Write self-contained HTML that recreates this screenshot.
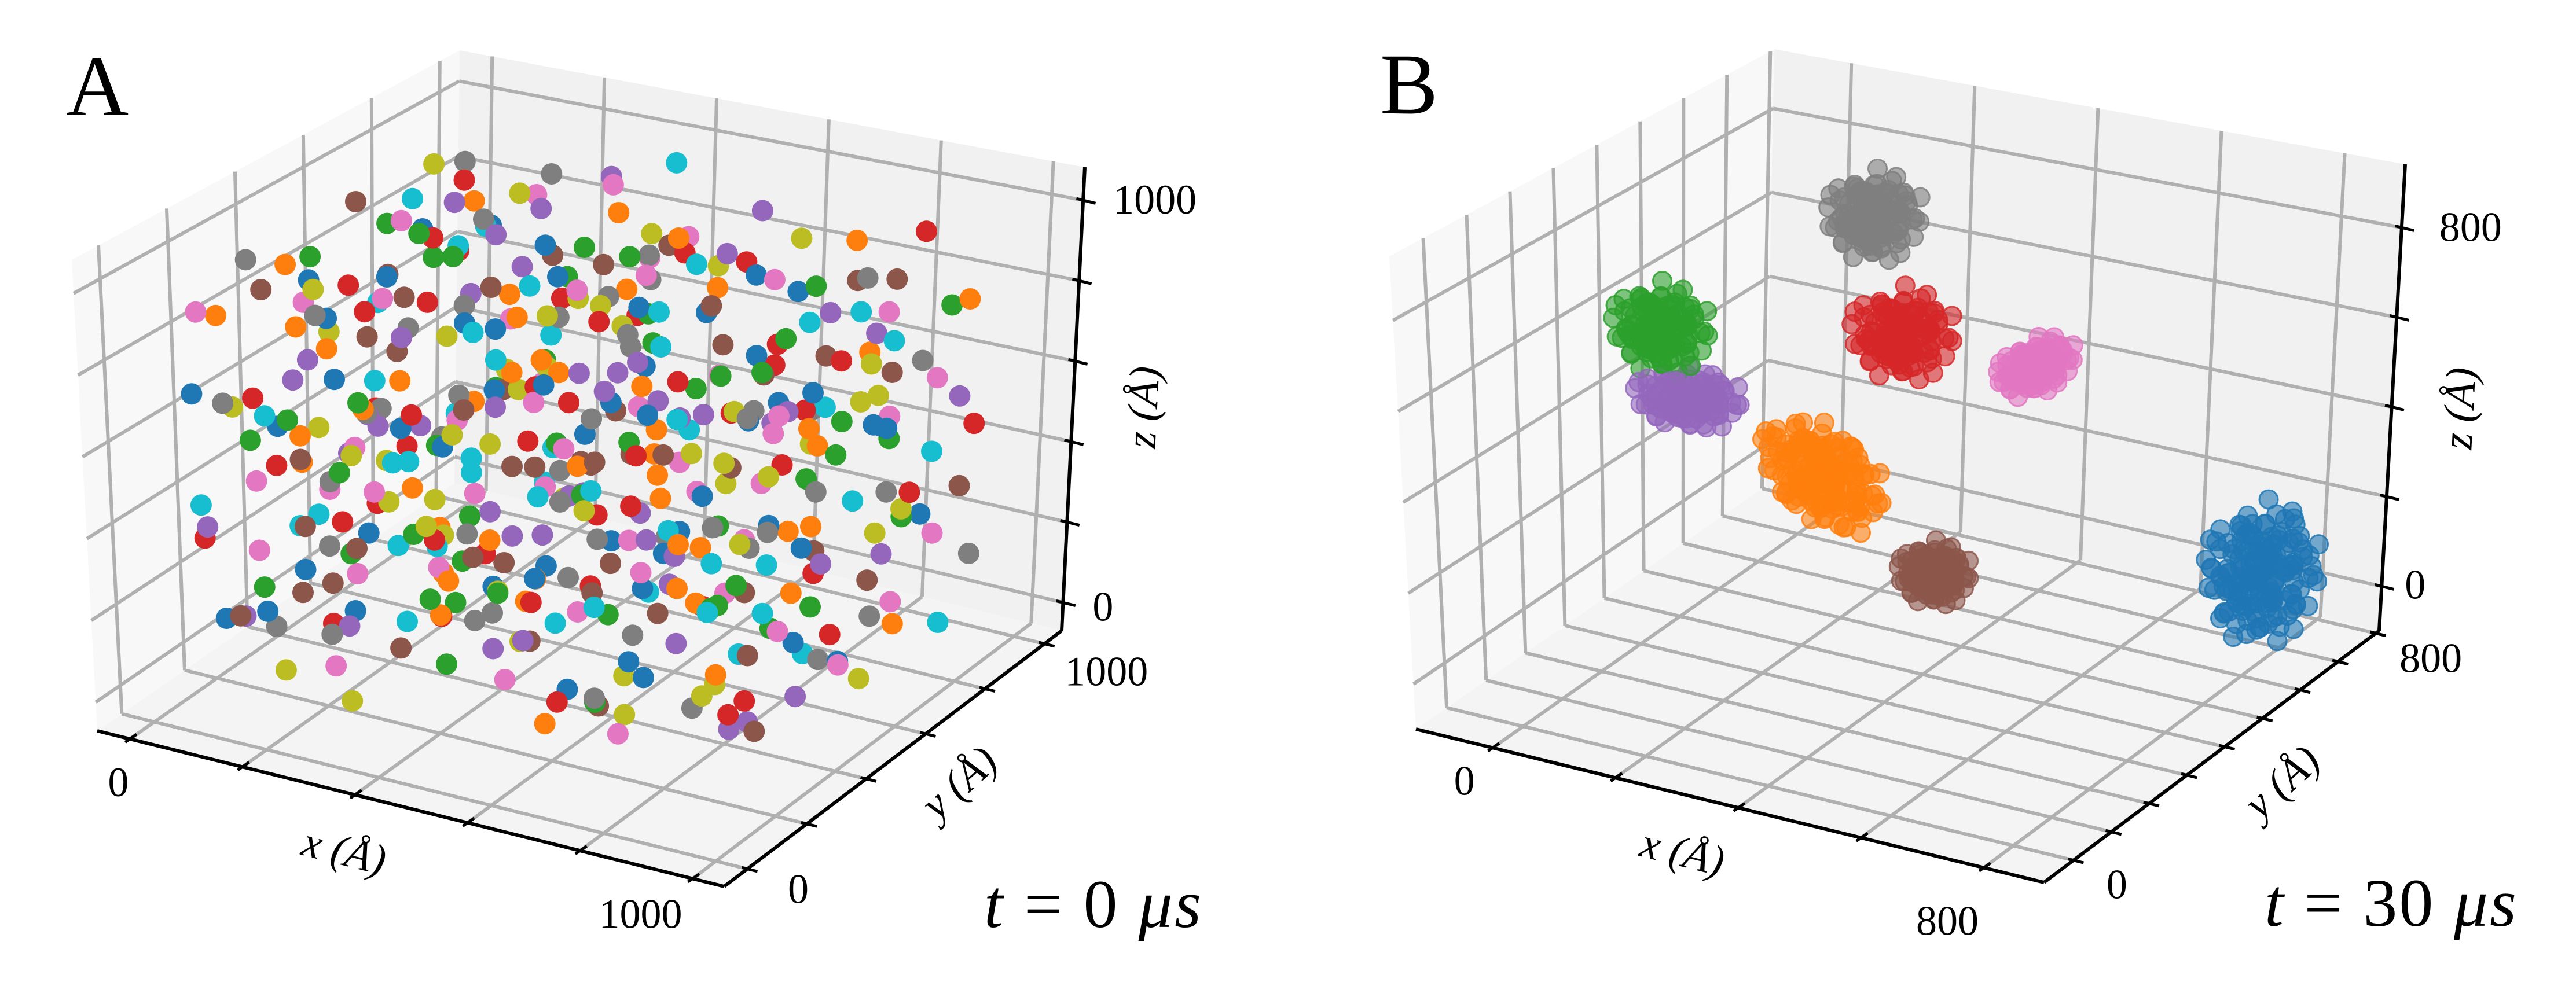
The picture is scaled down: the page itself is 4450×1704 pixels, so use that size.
<!DOCTYPE html>
<html><head><meta charset="utf-8"><style>
html,body{margin:0;padding:0;background:#fff;}
svg{display:block;font-family:"Liberation Serif",serif;}
</style></head><body>
<svg id="fig" xmlns="http://www.w3.org/2000/svg" width="4450" height="1704" viewBox="0 0 4450 1704">
<rect width="4450" height="1704" fill="#fff"/>
<g id="panelA"></g>
<g id="panelB"></g>
<text x="114" y="199" font-size="150">A</text>
<text x="2384" y="196" font-size="150">B</text>
<text x="1700" y="1602" font-size="118" textLength="375" lengthAdjust="spacing"><tspan font-style="italic">t</tspan> = 0 <tspan font-style="italic">μs</tspan></text>
<text x="3912" y="1600" font-size="118" textLength="435" lengthAdjust="spacing"><tspan font-style="italic">t</tspan> = 30 <tspan font-style="italic">μs</tspan></text>
</svg>
<script>
// ---------- Panel A data: randomly placed particles (x y z in Å), one array per species ----------
const seriesA0 = "812 134 455|233 671 902|57 388 120|640 912 731|395 245 611|918 560 84|150 820 377|702 47 958|486 603 219|269 139 790|855 781 530|31 512 683|577 296 46|344 954 428|966 212 870|121 430 15|733 668 302|418 85 744|609 841 597|248 337 941|887 472 168|71 736 812|529 158 356|792 595 664|186 48 239|451 884 77|982 335 502|308 707 856|635 441 931|94 254 561|758 976 393|520 710 140";
const seriesA0b = "302 566 713|874 903 248|145 276 931|667 381 59|423 712 489|38 95 702|951 655 617|589 184 381|213 997 186|768 240 808|496 432 970|106 803 545|836 41 334|359 619 105|643 778 843|187 364 268|912 496 776|471 922 622|29 187 96|705 508 451";
const seriesA1 = "64 905 273|712 318 822|355 560 47|903 94 611|227 742 488|598 211 905|441 839 183|829 632 349|118 367 706|676 48 128|290 986 593|952 415 742|507 702 391|33 183 852|768 869 919|381 274 260|615 523 580|176 613 29|860 158 458|473 951 671|245 72 944|703 784 215|12 462 337|558 327 804|931 716 96|329 891 852|664 199 672|122 578 519";
const seriesA1b = "842 245 371|190 798 648|563 96 512|415 487 163|977 860 837|68 334 918|639 617 244|307 158 719|751 947 592|126 691 85|519 273 955|882 560 603|243 406 377|694 813 41|36 949 766|460 111 288|803 371 116|152 224 571|587 639 990|919 15 824";
const seriesA2 = "485 39 372|811 664 127|262 851 688|947 287 943|139 121 245|593 476 566|376 710 869|728 905 433|40 560 61|662 143 756|299 388 511|887 819 291|514 615 934|177 932 403|955 491 639|404 220 91|786 356 820|83 748 736|618 992 206|320 59 617|871 242 369|230 463 983|549 834 151|15 302 476|699 577 711|452 172 284|925 708 556|192 625 833";
const seriesA2b = "647 259 58|97 916 314|836 543 862|356 64 797|568 371 482|211 637 172|983 130 519|445 788 681|67 409 901|729 682 37|312 289 345|891 954 748|528 517 95|150 191 626|766 446 234|406 870 552|20 715 821|609 36 429|854 603 966|263 522 138";
const seriesA3 = "731 462 211|188 91 576|599 823 840|42 639 392|874 335 95|335 711 727|967 902 503|264 243 905|503 529 329|806 118 661|129 963 159|652 295 974|409 672 42|919 570 818|77 211 647|556 991 477|283 402 262|749 785 124|456 56 803|31 817 568|823 449 707|612 131 358|207 541 927|985 86 231|378 868 615|696 614 599|147 316 54|533 748 882";
const seriesA3b = "110 449 823|947 736 415|372 177 640|605 936 268|238 638 85|812 260 893|55 88 355|481 384 716|699 839 488|164 706 980|925 522 173|330 45 507|588 243 47|757 651 769|13 942 632|436 155 254|865 913 946|292 807 397|640 417 578|93 553 211";
const seriesA4 = "381 158 919|904 725 255|165 437 491|659 21 338|46 873 804|782 592 612|433 317 87|269 999 363|847 206 843|567 661 175|118 264 679|719 877 719|342 505 993|985 389 436|206 710 142|602 99 533|496 939 771|881 488 25|28 578 304|758 232 938|311 84 226|547 786 458|128 941 626|950 624 867|416 371 652|687 452 111|241 806 880|806 161 557";
const seriesA4b = "514 740 44|84 49 412|743 314 798|297 922 920|966 120 172|453 574 344|178 385 551|617 838 967|839 543 683|35 237 77|362 687 246|911 953 527|231 125 833|566 449 698|705 18 610|129 628 381|873 345 38|391 863 116|656 226 883|9 987 494";
const seriesA5 = "92 318 112|558 855 290|301 556 823|874 72 447|733 493 938|17 770 601|453 228 366|662 944 64|219 409 710|988 607 791|379 123 174|139 865 350|604 340 584|842 793 133|466 617 899|266 39 478|928 253 267|53 479 35|697 712 643|374 969 741|811 397 914|175 184 540|529 91 821|749 562 198|417 737 453|6 646 907|638 286 31|296 840 229";
const seriesA5b = "724 151 725|260 659 58|986 826 395|55 282 876|528 467 176|815 35 568|167 967 654|421 779 322|908 304 49|349 110 934|618 538 510|82 613 760|769 872 817|474 362 95|234 246 307|683 929 572|945 692 964|138 46 213|565 168 656|396 522 418";
const seriesA6 = "611 747 50|95 183 461|841 512 689|420 936 215|230 352 874|978 262 337|348 629 558|711 83 788|126 801 112|543 411 961|897 905 594|278 171 298|655 578 410|39 432 766|808 46 148|466 872 840|173 604 47|934 688 882|593 307 236|327 991 683|752 199 519|68 69 926|402 543 359|869 822 72|227 739 627|634 126 855|980 449 156|517 886 495";
const seriesA6b = "392 41 602|761 635 939|28 518 244|577 869 106|907 383 733|255 215 580|688 723 363|141 960 808|470 287 39|826 107 512|342 852 947|615 469 665|11 326 186|953 801 281|532 634 883|290 73 127|795 938 449|188 481 994|450 200 717|726 585 25";
const seriesA7 = "279 573 980|713 142 152|58 884 533|934 793 707|421 267 393|605 456 847|192 63 196|849 621 33|360 939 664|547 342 551|116 715 301|980 186 893|675 908 447|237 414 772|792 37 618|473 802 116|25 289 938|628 675 259|308 536 15|891 388 484|156 979 857|737 247 962|510 130 281|68 611 414|961 909 174|385 768 717|585 494 75|213 323 597";
const seriesA7b = "835 862 313|73 128 674|502 693 895|316 21 240|959 422 586|198 894 419|661 250 761|405 608 97|872 727 928|60 459 142|541 955 375|233 174 509|780 334 47|446 516 812|120 781 978|697 88 652|977 557 216|350 373 660|618 811 130|171 249 864";
const seriesA8 = "836 618 563|143 906 840|512 265 159|967 38 296|273 469 735|688 837 918|409 164 461|21 706 214|782 405 67|355 633 598|618 19 802|171 246 930|918 762 351|455 983 705|295 110 23|733 560 642|87 389 487|544 865 240|880 182 779|204 802 405|631 335 987|36 511 651|767 952 139|479 427 870|151 658 92|906 276 518|325 88 646|702 721 385";
const seriesA8b = "41 820 929|596 58 418|322 742 198|851 327 672|168 127 47|770 889 504|433 596 815|993 493 103|250 321 389|662 218 553|90 961 335|519 672 965|803 78 176|369 838 601|935 634 782|205 539 265|625 393 43|477 139 720|741 996 454|18 247 588";
const seriesA9 = "566 291 640|121 624 960|892 903 410|357 114 827|681 755 139|47 392 225|779 46 726|237 845 533|438 507 49|985 618 862|176 232 380|615 994 602|854 355 192|302 670 769|521 140 984|43 890 681|741 472 315|393 333 502|966 803 63|210 26 737|579 706 888|125 561 110|824 198 566|448 915 319|689 411 951|274 763 211|937 117 446|351 484 692";
const seriesA9b = "720 865 488|262 347 81|893 122 896|507 721 651|59 74 445|635 286 272|400 943 974|976 506 525|169 438 803|818 627 34|339 187 583|571 571 136|107 776 327|791 847 758|460 35 701|231 658 906|942 279 360|625 142 614|38 943 95|288 401 248";
const seriesAList = [[seriesA0,seriesA0b],[seriesA1,seriesA1b],[seriesA2,seriesA2b],[seriesA3,seriesA3b],[seriesA4,seriesA4b],[seriesA5,seriesA5b],[seriesA6,seriesA6b],[seriesA7,seriesA7b],[seriesA8,seriesA8b],[seriesA9,seriesA9b]];
const colorsTab10 = ["#1f77b4","#ff7f0e","#2ca02c","#d62728","#9467bd","#8c564b","#e377c2","#7f7f7f","#bcbd22","#17becf"];
const ticksA_x = [0,200,400,600,800,1000];
const ticksA_y = [0,200,400,600,800,1000];
const ticksA_z = [0,200,400,600,800,1000];
const tickLabelsA = {x:["0","1000"], y:["0","1000"], z:["0","1000"]};

// ---------- Panel B data: clusters after 30 µs ----------
const clusterNamesB = ["blue","orange","green","red","purple","brown","pink","gray"];
const clusterColorIdxB = [0,1,2,3,4,5,6,7];
const clusterCentersB = [[720,774,-5],[380,188,469],[122,188,715],[331,454,612],[163,188,571],[412,410,124],[459,587,498],[285,454,866]];
const clusterRadiiB = [[90,85,165],[95,75,105],[75,62,105],[80,68,108],[85,62,66],[56,50,72],[58,56,66],[70,68,106]];
const clusterShearB = [0,-0.6,0,0,0,0,0.5,0];
const clusterLayersB = [4,4,3,3,3,3,3,3];
const clusterOffsetsB = "0.1 0.2 -0.3|-0.5 0.4 0.1|0.7 -0.2 0.3|-0.3 -0.6 -0.4|0.2 0.8 0.2|-0.8 0.1 -0.2|0.4 -0.4 0.7|-0.1 0.3 0.9|0.6 0.5 -0.5|-0.6 -0.3 0.6|0.3 -0.8 -0.1|-0.2 0.6 -0.7|0.9 0.1 0.1|-0.4 -0.1 -0.9|0.0 0.0 0.0|0.5 0.3 0.5|-0.7 0.5 0.3|0.2 -0.3 -0.6|-0.2 -0.9 0.2|0.6 -0.6 -0.3|-0.5 0.7 -0.4|0.1 0.5 0.6|0.8 0.4 -0.1|-0.9 -0.2 0.1|0.3 0.1 -0.9|-0.3 0.2 0.4|0.4 0.6 0.1|-0.1 -0.5 0.8|0.7 -0.1 -0.6|-0.6 -0.6 -0.1|0.2 -0.1 0.3|-0.4 0.4 -0.3|0.5 -0.5 0.4|-0.2 -0.2 -0.4|0.0 0.9 -0.2|0.4 0.2 0.85|-0.75 -0.35 0.45|0.65 0.65 0.3|-0.15 0.45 0.0|0.35 -0.25 -0.15";
const ticksB_x = [0,200,400,600,800];
const ticksB_y = [0,100,200,300,400,500,600,700,800];
const ticksB_z = [0,200,400,600,800];
const tickLabelsB = {x:["0","800"], y:["0","800"], z:["0","800"]};

// ---------- layout (projection corners, ranges) ----------
const NS = "http://www.w3.org/2000/svg";
function parseTriples(s){ return s.split('|').map(t=>t.trim().split(/\s+/).map(Number)); }

const layoutA = {
  C:{c000:[168,1263],c100:[1251,1532],c110:[1834,1090],c010:[785,835],c001:[124,449],c101:[1205,700],c011:[794,87],c111:[1874,289]},
  range:{x:[-58,1056],y:[-78,1058],z:[-70,1082]},
  lab:{x:[[-20,99],[-90,85]], y:[[88,59],[107,72]], z:[[69,31],[124,23]]},
  axisLab:{x:[593,1478,14,"x"], y:[1662,1358,-42,"y"], z:[1982,704,-87,"z"]},
  ticks:{x:ticksA_x,y:ticksA_y,z:ticksA_z}, labels:tickLabelsA, labelVals:{x:[0,1000],y:[0,1000],z:[0,1000]}
};
const layoutB = {
  C:{c000:[2446,1260],c100:[3531,1525],c110:[4110,1090],c010:[3050,840],c001:[2400,443],c101:[3490,700],c011:[3065,85],c111:[4155,284]},
  range:{x:[-125,898],y:[-78,809],z:[-99,941]},
  lab:{x:[[-49,81],[-63,116]], y:[[75,66],[95,67]], z:[[58,21],[119,23]]},
  axisLab:{x:[2905,1480,14,"x"], y:[3947,1357,-42,"y"], z:[4256,706,-87,"z"]},
  ticks:{x:ticksB_x,y:ticksB_y,z:ticksB_z}, labels:tickLabelsB, labelVals:{x:[0,800],y:[0,800],z:[0,800]}
};

function proj(L,u,v,w){
  const C=L.C; const k=['c000','c100','c010','c110','c001','c101','c011','c111'];
  const wts=[(1-u)*(1-v)*(1-w),u*(1-v)*(1-w),(1-u)*v*(1-w),u*v*(1-w),(1-u)*(1-v)*w,u*(1-v)*w,(1-u)*v*w,u*v*w];
  let x=0,y=0; for(let i=0;i<8;i++){x+=wts[i]*C[k[i]][0]; y+=wts[i]*C[k[i]][1];}
  return [x,y];
}
function nrm(L,a,val){ const r=L.range[a]; return (val-r[0])/(r[1]-r[0]); }
function el(tag,attrs,parent){ const e=document.createElementNS(NS,tag); for(const k in attrs) e.setAttribute(k,attrs[k]); parent.appendChild(e); return e; }
function line(p,q,stroke,w,parent){ return el('line',{x1:p[0],y1:p[1],x2:q[0],y2:q[1],stroke:stroke,'stroke-width':w,'stroke-linecap':'butt'},parent); }
function unit(a,b){ const dx=b[0]-a[0],dy=b[1]-a[1],l=Math.hypot(dx,dy); return [dx/l,dy/l]; }

function drawFrame(L,g){
  const C=L.C;
  const poly=(pts,fill,name)=>{ const p=el('polygon',{points:pts.map(q=>q.join(',')).join(' '),fill:fill,stroke:'none'},g);
    
     };
  poly([C.c000,C.c010,C.c011,C.c001],'#f8f8f8','left-pane');
  poly([C.c010,C.c110,C.c111,C.c011],'#f1f1f1','back-pane');
  poly([C.c000,C.c100,C.c110,C.c010],'#f4f4f4','floor-pane');
  const grid=el('g',{},g);
  
  
  const gc='#b0b0b0', gw=6;
  L.ticks.x.forEach(t=>{ const u=nrm(L,'x',t); line(proj(L,u,0,0),proj(L,u,1,0),gc,gw,grid); line(proj(L,u,1,0),proj(L,u,1,1),gc,gw,grid); });
  L.ticks.y.forEach(t=>{ const v=nrm(L,'y',t); line(proj(L,0,v,0),proj(L,1,v,0),gc,gw,grid); line(proj(L,0,v,0),proj(L,0,v,1),gc,gw,grid); });
  L.ticks.z.forEach(t=>{ const w=nrm(L,'z',t); line(proj(L,0,0,w),proj(L,0,1,w),gc,gw,grid); line(proj(L,0,1,w),proj(L,1,1,w),gc,gw,grid); });
}

function drawAxes(L,g){
  const C=L.C;
  const ax=el('g',{},g);
  
  
  const xl=line(C.c000,C.c100,'#000',6,ax);
  
  
  const yl=line(C.c100,C.c110,'#000',6,ax);
  
  
  const zl=line(C.c110,C.c111,'#000',6,ax);
  
  
  const dY=unit(C.c000,C.c010), dX=unit(C.c000,C.c100);
  L.ticks.x.forEach(t=>{ const p=proj(L,nrm(L,'x',t),0,0); line([p[0]-dY[0]*10,p[1]-dY[1]*10],[p[0]+dY[0]*14,p[1]+dY[1]*14],'#000',5,ax); });
  L.ticks.y.forEach(t=>{ const p=proj(L,1,nrm(L,'y',t),0); line([p[0]-dX[0]*10,p[1]-dX[1]*10],[p[0]+dX[0]*18,p[1]+dX[1]*18],'#000',5,ax); });
  L.ticks.z.forEach(t=>{ const p=proj(L,1,1,nrm(L,'z',t)); line([p[0]-dX[0]*12,p[1]-dX[1]*12],[p[0]+dX[0]*22,p[1]+dX[1]*22],'#000',5,ax); });
  ['x','y','z'].forEach(a=>{
    L.labelVals[a].forEach((val,i)=>{
      const f=nrm(L,a,val);
      const p = a==='x'?proj(L,f,0,0):a==='y'?proj(L,1,f,0):proj(L,1,1,f);
      const off=L.lab[a][i];
      const t=el('text',{x:p[0]+off[0],y:p[1]+off[1],'font-size':72,'text-anchor':'middle',fill:'#000'},ax);
      t.textContent=L.labels[a][i];
      
      
    });
    const al=L.axisLab[a];
    const t=el('text',{x:al[0],y:al[1],'font-size':74,'font-style':'italic','text-anchor':'middle','dominant-baseline':'middle',transform:`rotate(${al[2]} ${al[0]} ${al[1]})`},ax);
    t.textContent=al[3]+' (Å)';
    
    
  });
}

function depth(u,v,w){ return u*0.5 - v*0.87 + w*0.3; }

// ---------- Panel A ----------
(function(){
  const g=document.getElementById('panelA');
  drawFrame(layoutA,g);
  const pts=[];
  seriesAList.forEach((arr,si)=>{ arr.forEach(s=>parseTriples(s).forEach(p=>pts.push({si:si,p:p}))); });
  pts.forEach(o=>{ o.u=nrm(layoutA,'x',o.p[0]); o.v=nrm(layoutA,'y',o.p[1]); o.w=nrm(layoutA,'z',o.p[2]); o.d=depth(o.u,o.v,o.w); });
  pts.sort((a,b)=>a.d-b.d);
  const dots=el('g',{},g);
  
  
  pts.forEach(o=>{
    const s=proj(layoutA,o.u,o.v,o.w);
    const c=el('circle',{cx:s[0].toFixed(1),cy:s[1].toFixed(1),r:18.5,fill:colorsTab10[o.si]},dots);
    
    
  });
  drawAxes(layoutA,g);
})();

// ---------- Panel B ----------
(function(){
  const g=document.getElementById('panelB');
  drawFrame(layoutB,g);
  const offs=parseTriples(clusterOffsetsB);
  const pts=[];
  clusterCentersB.forEach((c,ci)=>{
    const r=clusterRadiiB[ci], sh=clusterShearB[ci];
    for(let layer=0;layer<clusterLayersB[ci];layer++){
      offs.forEach(o=>{
        let ox,oy,oz;
        if(layer===0){ ox=o[0]; oy=o[1]; oz=o[2]; }
        else if(layer===1){ ox=-0.6*o[0]; oy=-0.6*o[1]; oz=-0.6*o[2]; }
        else if(layer===2){ ox=0.8*o[2]; oy=-0.8*o[1]; oz=0.8*o[0]; }
        else { ox=-0.9*o[1]; oy=0.9*o[2]; oz=-0.9*o[0]; }
        const x=c[0]+ox*r[0], y=c[1]+oy*r[1], z=c[2]+oz*r[2]+sh*ox*r[0];
        pts.push({ci:ci,p:[x,y,z]});
      });
    }
  });
  pts.forEach(o=>{ o.u=nrm(layoutB,'x',o.p[0]); o.v=nrm(layoutB,'y',o.p[1]); o.w=nrm(layoutB,'z',o.p[2]); o.d=depth(o.u,o.v,o.w); });
  pts.sort((a,b)=>a.d-b.d);
  const dots=el('g',{},g);
  
  
  pts.forEach(o=>{
    const s=proj(layoutB,o.u,o.v,o.w);
    const col=colorsTab10[clusterColorIdxB[o.ci]];
    const c=el('circle',{cx:s[0].toFixed(1),cy:s[1].toFixed(1),r:16,fill:col,'fill-opacity':0.6,stroke:col,'stroke-opacity':0.85,'stroke-width':3},dots);
    
    
  });
  drawAxes(layoutB,g);
})();
</script>
</body></html>
